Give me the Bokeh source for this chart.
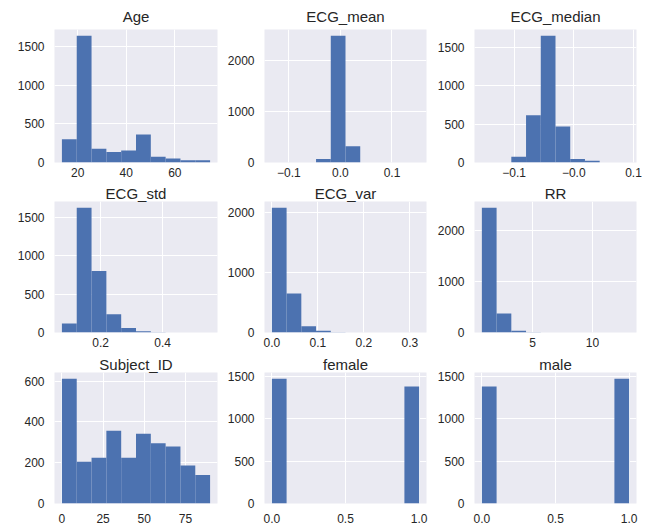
import numpy as np
from bokeh.plotting import figure
from bokeh.layouts import column, row
from bokeh.models import FixedTicker, Range1d
from bokeh.embed import file_html
from bokeh.resources import INLINE

# ---------------- data ----------------
titles = ["Age", "ECG_mean", "ECG_median",
          "ECG_std", "ECG_var", "RR",
          "Subject_ID", "female", "male"]

# data min / max of each column (histogram spans this range, 10 bins)
age_range = [13.5, 74.5]
ecg_mean_range = [-0.133, 0.1527]
ecg_median_range = [-0.154, 0.0927]
ecg_std_range = [0.0755, 0.553]
ecg_var_range = [0.0, 0.32]
rr_range = [0.78, 13.05]
subject_range = [0.0, 90.0]
female_range = [0.0, 1.0]
male_range = [0.0, 1.0]

# counts per bin
age_counts = [300, 1635, 178, 135, 155, 362, 75, 52, 30, 28]
ecg_mean_counts = [1, 0, 0, 67, 2475, 317, 0, 0, 0, 1]
ecg_median_counts = [1, 0, 76, 615, 1650, 468, 45, 23, 0, 1]
ecg_std_counts = [117, 1621, 800, 238, 60, 17, 2, 1, 0, 1]
ecg_var_counts = [2073, 647, 105, 28, 3, 1, 0, 0, 0, 1]
rr_counts = [2444, 372, 33, 3, 1, 0, 0, 0, 0, 1]
subject_counts = [612, 205, 225, 357, 225, 342, 295, 280, 187, 140]
female_counts = [1473, 0, 0, 0, 0, 0, 0, 0, 0, 1380]
male_counts = [1380, 0, 0, 0, 0, 0, 0, 0, 0, 1473]

# tick values and labels
age_xticks = [20, 40, 60]
age_xlabels = ["20", "40", "60"]
ecg_mean_xticks = [-0.1, 0.0, 0.1]
ecg_mean_xlabels = ["\u22120.1", "0.0", "0.1"]
ecg_median_xticks = [-0.1, 0.0, 0.1]
ecg_median_xlabels = ["\u22120.1", "\u22120.0", "0.1"]
ecg_std_xticks = [0.2, 0.4]
ecg_std_xlabels = ["0.2", "0.4"]
ecg_var_xticks = [0.0, 0.1, 0.2, 0.3]
ecg_var_xlabels = ["0.0", "0.1", "0.2", "0.3"]
rr_xticks = [5, 10]
rr_xlabels = ["5", "10"]
subject_xticks = [0, 25, 50, 75]
subject_xlabels = ["0", "25", "50", "75"]
binary_xticks = [0.0, 0.5, 1.0]
binary_xlabels = ["0.0", "0.5", "1.0"]

yticks_500 = [0, 500, 1000, 1500]
yticks_1000 = [0, 1000, 2000]
yticks_200 = [0, 200, 400, 600]

panels = [
    (age_range, age_counts, age_xticks, age_xlabels, yticks_500),
    (ecg_mean_range, ecg_mean_counts, ecg_mean_xticks, ecg_mean_xlabels, yticks_1000),
    (ecg_median_range, ecg_median_counts, ecg_median_xticks, ecg_median_xlabels, yticks_500),
    (ecg_std_range, ecg_std_counts, ecg_std_xticks, ecg_std_xlabels, yticks_500),
    (ecg_var_range, ecg_var_counts, ecg_var_xticks, ecg_var_xlabels, yticks_1000),
    (rr_range, rr_counts, rr_xticks, rr_xlabels, yticks_1000),
    (subject_range, subject_counts, subject_xticks, subject_xlabels, yticks_200),
    (female_range, female_counts, binary_xticks, binary_xlabels, yticks_500),
    (male_range, male_counts, binary_xticks, binary_xlabels, yticks_500),
]

# ---------------- layout / style ----------------
BG = "#EAEAF2"
BAR = "#4C72B0"
TXT = "#262626"
FONT = "Liberation Sans"

frame_w = [163, 162, 162]
col_left = [54, 42, 43]
col_right = [5, 5, 8]
frame_h = [133, 131, 131]
row_top = [29, 20, 20]
row_bottom = [19, 20, 26]
title_standoff = [9, 0, 0]
xlabel_standoff = [5, 5, 10]

figs = []
for i, (title, (rng, counts, xt, xl, yt)) in enumerate(zip(titles, panels)):
    r, c = divmod(i, 3)
    lo, hi = rng
    edges = np.linspace(lo, hi, len(counts) + 1)
    pad = 0.05 * (hi - lo)
    p = figure(frame_width=frame_w[c], frame_height=frame_h[r],
               x_range=Range1d(lo - pad, hi + pad),
               y_range=Range1d(0, max(counts) * 1.05),
               output_backend="svg", toolbar_location=None,
               min_border_left=col_left[c], min_border_right=col_right[c],
               min_border_top=row_top[r], min_border_bottom=row_bottom[r],
               background_fill_color=BG, border_fill_color="white",
               outline_line_color=None, title=title)
    p.quad(left=edges[:-1], right=edges[1:], bottom=0, top=counts,
           fill_color=BAR, line_color=None)

    p.title.align = "center"
    p.title.text_font = FONT
    p.title.text_font_size = "15px"
    p.title.text_font_style = "normal"
    p.title.text_color = TXT
    p.title.standoff = title_standoff[r]
    p.title.offset = 0

    p.xaxis.ticker = FixedTicker(ticks=xt)
    p.yaxis.ticker = FixedTicker(ticks=yt)
    p.xaxis.major_label_overrides = {t: l for t, l in zip(xt, xl)}
    p.xgrid.ticker = FixedTicker(ticks=xt)
    p.ygrid.ticker = FixedTicker(ticks=yt)
    for ax in (p.xaxis, p.yaxis):
        ax.axis_line_color = None
        ax.major_tick_line_color = None
        ax.minor_tick_line_color = None
        ax.major_tick_out = 0
        ax.major_tick_in = 0
        ax.minor_tick_out = 0
        ax.minor_tick_in = 0
        ax.major_label_text_font = FONT
        ax.major_label_text_font_size = "12px"
        ax.major_label_text_color = TXT
    p.xaxis.major_label_standoff = xlabel_standoff[r]
    p.yaxis.major_label_standoff = 10
    p.grid.grid_line_color = "white"
    p.grid.grid_line_width = 1
    figs.append(p)

layout = column(row(*figs[0:3]), row(*figs[3:6]), row(*figs[6:9]))

open("out.html", "w").write(file_html(layout, INLINE))
